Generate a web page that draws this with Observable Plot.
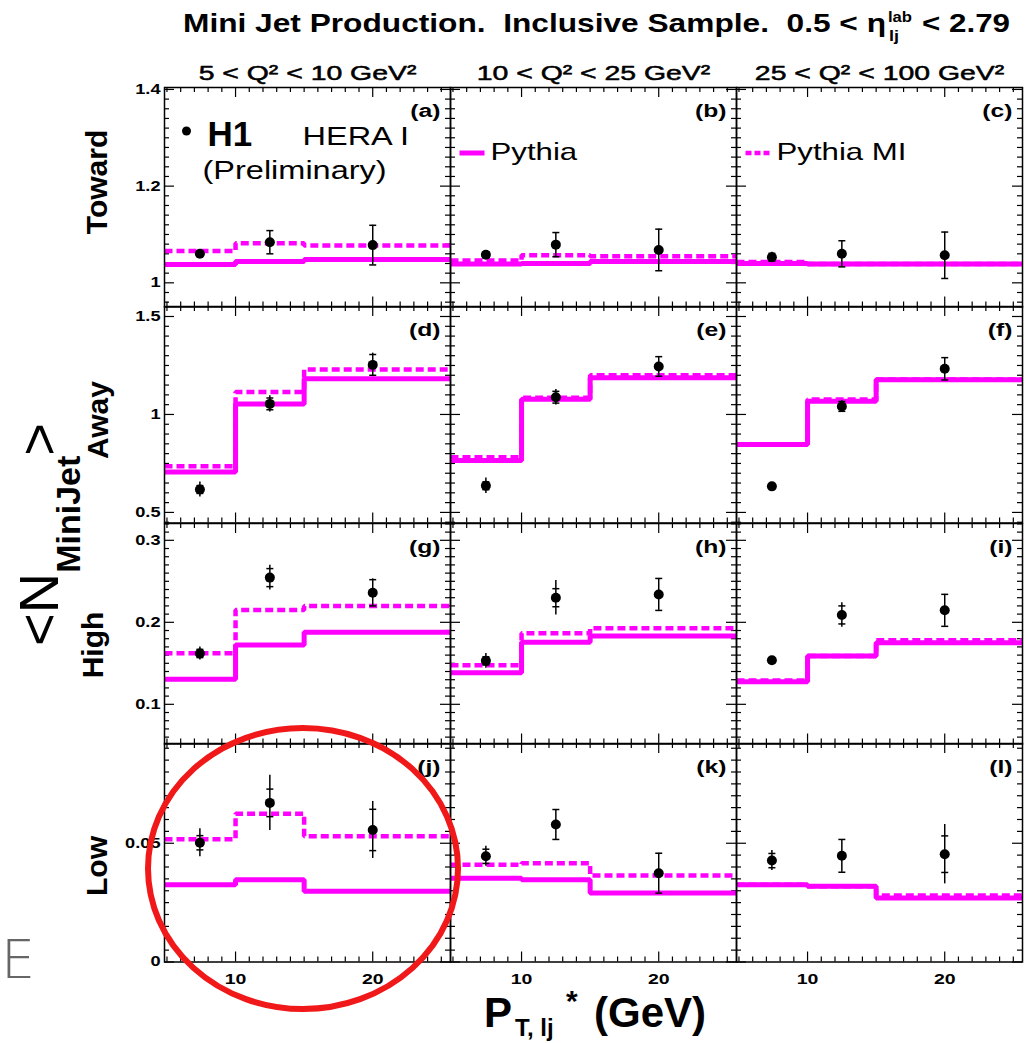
<!DOCTYPE html>
<html><head><meta charset="utf-8">
<script src="https://cdn.jsdelivr.net/npm/d3@7"></script>
<script src="https://cdn.jsdelivr.net/npm/@observablehq/plot@0.6"></script>
<style>
html,body{margin:0;padding:0;background:#fff;}
#chart{position:relative;width:1034px;height:1043px;overflow:hidden;background:#fff;}
#chart svg{position:absolute;left:0;overflow:visible;}
</style></head>
<body><div id="chart"></div>
<script>
const FONT = "'Liberation Sans', Arial, Helvetica, sans-serif";
const MAGENTA = "#ff00ff";

// ---- categories / labels ----
const columns = ["5 < Q² < 10 GeV²", "10 < Q² < 25 GeV²", "25 < Q² < 100 GeV²"];
const regions = ["Toward", "Away", "High", "Low"];
const panelTags = [["(a)","(b)","(c)"],["(d)","(e)","(f)"],["(g)","(h)","(i)"],["(j)","(k)","(l)"]];
const ptDomain = [4.82, 25.67];
const ptBinEdges = [4.82, 10, 15, 25.67];
const ptCenters = [7.4, 12.5, 20];
const xTickLabels = [10, 20];
const yDomains = [[0.95, 1.404], [0.446, 1.551], [0.0516, 0.3205], [0, 0.092]];
const yTickLabels = [[1, 1.2, 1.4], [0.5, 1, 1.5], [0.1, 0.2, 0.3], [0, 0.05]];
const yMinorStep = [0.02, 0.05, 0.01, 0.005];

// ---- Pythia (solid), per column, per PT bin ----
const pythiaToward = [[1.038, 1.044, 1.048], [1.039, 1.040, 1.044], [1.040, 1.039, 1.039]];
const pythiaAway   = [[0.706, 1.054, 1.182], [0.765, 1.077, 1.187], [0.847, 1.068, 1.177]];
const pythiaHigh   = [[0.1305, 0.1723, 0.188], [0.1385, 0.1756, 0.1833], [0.1276, 0.159, 0.175]];
const pythiaLow    = [[0.0325, 0.0346, 0.0298], [0.0353, 0.0346, 0.0291], [0.0325, 0.0319, 0.0270]];

// ---- Pythia MI (dashed) ----
const pythiaMIToward = [[1.066, 1.082, 1.077], [1.046, 1.057, 1.055], [1.043, 1.039, 1.039]];
const pythiaMIAway   = [[0.736, 1.114, 1.230], [0.782, 1.085, 1.200], [0.847, 1.076, 1.178]];
const pythiaMIHigh   = [[0.1622, 0.215, 0.220], [0.1475, 0.1866, 0.1927], [0.129, 0.159, 0.178]];
const pythiaMILow    = [[0.0517, 0.0624, 0.0530], [0.0409, 0.0416, 0.0364], [0.0325, 0.0319, 0.0280]];

// ---- H1 data points ----
const h1Toward = [[1.060, 1.084, 1.078], [1.058, 1.079, 1.068], [1.053, 1.060, 1.057]];
const h1Away   = [[0.617, 1.054, 1.253], [0.636, 1.088, 1.245], [0.633, 1.041, 1.233]];
const h1High   = [[0.162, 0.2545, 0.236], [0.153, 0.230, 0.234], [0.1537, 0.209, 0.2146]];
const h1Low    = [[0.0502, 0.0670, 0.0556], [0.0445, 0.0579, 0.0374], [0.0427, 0.0447, 0.0454]];

// ---- H1 total errors ----
const totErrToward = [[0.006, 0.024, 0.041], [0.008, 0.025, 0.043], [0.010, 0.027, 0.048]];
const totErrAway   = [[0.038, 0.042, 0.060], [0.040, 0.040, 0.050], [0.012, 0.030, 0.057]];
const totErrHigh   = [[0.008, 0.015, 0.017], [0.009, 0.021, 0.0195], [0.004, 0.015, 0.0195]];
const totErrLow    = [[0.0059, 0.0116, 0.012], [0.0042, 0.0063, 0.0084], [0.0042, 0.0069, 0.0125]];

// ---- H1 statistical errors ----
const statErrToward = [[0.005, 0.024, 0.041], [0.006, 0.025, 0.043], [0.008, 0.027, 0.048]];
const statErrAway   = [[0.020, 0.030, 0.053], [0.020, 0.030, 0.050], [0.008, 0.025, 0.057]];
const statErrHigh   = [[0.005, 0.011, 0.016], [0.005, 0.011, 0.0195], [0.003, 0.011, 0.0195]];
const statErrLow    = [[0.003, 0.0058, 0.0087], [0.003, 0.0063, 0.0084], [0.003, 0.0069, 0.0077]];

const pythia = [pythiaToward, pythiaAway, pythiaHigh, pythiaLow];
const pythiaMI = [pythiaMIToward, pythiaMIAway, pythiaMIHigh, pythiaMILow];
const h1 = [h1Toward, h1Away, h1High, h1Low];
const totErr = [totErrToward, totErrAway, totErrHigh, totErrLow];
const statErr = [statErrToward, statErrAway, statErrHigh, statErrLow];

// ---- layout ----
const W = 1034, ML = 164, MR = 12;
const panelW = (W - ML - MR) / 3;
const rowTop = [86.5, 306, 522.5, 743];
const rowBottom = [306, 522.5, 743, 961.5];

const hLine = {draw(context, size) { const r = Math.sqrt(size / Math.PI); context.moveTo(-r, 0); context.lineTo(r, 0); }};

function stretchTexts(svg, pick) {
  svg.querySelectorAll("text").forEach(t => {
    const sx = pick(t.textContent);
    if (sx === 1) return;
    const tr = t.getAttribute("transform");
    if (tr) t.setAttribute("transform", tr + ` scale(${sx},1)`);
    else {
      const x = +(t.getAttribute("x") || 0);
      t.setAttribute("transform", `translate(${x},0) scale(${sx},1) translate(${-x},0)`);
    }
  });
}

const chart = document.getElementById("chart");

regions.forEach((region, r) => {
  const h = rowBottom[r] - rowTop[r];
  const mt = r === 0 ? 40 : 4;
  const mb = r === 3 ? 40 : 4;
  const histSolid = [], histDashed = [], pts = [], caps = [], tags = [];
  columns.forEach((col, c) => {
    ptBinEdges.forEach((e, k) => {
      histSolid.push({col, x: e, y: pythia[r][c][Math.min(k, 2)]});
      histDashed.push({col, x: e, y: pythiaMI[r][c][Math.min(k, 2)]});
    });
    ptCenters.forEach((x, k) => {
      const y = h1[r][c][k], t = totErr[r][c][k], s = statErr[r][c][k];
      pts.push({col, x, y, lo: y - t, hi: y + t});
      caps.push({col, x, y: y - s}, {col, x, y: y + s});
    });
    tags.push({col, tag: panelTags[r][c]});
  });
  const yMajor = yTickLabels[r];
  const [ylo, yhi] = yDomains[r];
  const st = yMinorStep[r];
  const yMinor = d3.range(Math.ceil(ylo / st - 1e-9), Math.floor(yhi / st + 1e-9) + 1)
    .map(i => +(i * st).toFixed(6))
    .filter(v => !yMajor.some(M => Math.abs(M - v) < 1e-9));
  const xMinor = d3.range(5, 26).filter(v => !xTickLabels.includes(v));
  const tk = {stroke: "black", strokeWidth: 1.2};

  const marks = [
    Plot.tickY(yMinor, {y: d => d, insetRight: panelW - 5, ...tk}),
    Plot.tickY(yMinor, {y: d => d, insetLeft: panelW - 5, ...tk}),
    Plot.tickY(yMajor, {y: d => d, insetRight: panelW - 10, ...tk}),
    Plot.tickY(yMajor, {y: d => d, insetLeft: panelW - 10, ...tk}),
    Plot.tickX(xMinor, {x: d => d, insetTop: h - 5, ...tk}),
    Plot.tickX(xMinor, {x: d => d, insetBottom: h - 5, ...tk}),
    Plot.tickX(xTickLabels, {x: d => d, insetTop: h - 10, ...tk}),
    Plot.tickX(xTickLabels, {x: d => d, insetBottom: h - 10, ...tk}),
    Plot.line(histDashed, {fx: "col", x: "x", y: "y", curve: "step-after", stroke: MAGENTA, strokeWidth: 4.5, strokeDasharray: "8,4", strokeLinecap: "butt", strokeLinejoin: "miter"}),
    Plot.line(histSolid, {fx: "col", x: "x", y: "y", curve: "step-after", stroke: MAGENTA, strokeWidth: 5, strokeLinecap: "butt", strokeLinejoin: "miter"}),
    Plot.ruleX(pts, {fx: "col", x: "x", y1: "lo", y2: "hi", stroke: "black", strokeWidth: 1.5}),
    Plot.dot(caps, {fx: "col", x: "x", y: "y", symbol: hLine, r: 3.5, stroke: "black", strokeWidth: 1.5, fill: "none"}),
    Plot.dot(pts, {fx: "col", x: "x", y: "y", r: 5, fill: "black", stroke: "none"}),
    Plot.frame({stroke: "black", strokeWidth: 1.5}),
    Plot.text(tags, {fx: "col", text: "tag", frameAnchor: "top-right", dx: -10, dy: 23, lineAnchor: "middle", textAnchor: "end", fontSize: 19, fontWeight: "bold"}),
    Plot.axisY({ticks: yMajor, tickSize: 0, tickPadding: 4, tickFormat: d => String(d), fontSize: 14, fontWeight: "bold", label: null})
  ];
  if (r === 0) {
    marks.push(
      Plot.text(columns.map(col => ({col})), {fx: "col", text: "col", frameAnchor: "top", dy: -8, lineAnchor: "bottom", fontSize: 20, fill: "black", stroke: "black", strokeWidth: 0.5}),
      Plot.dot([{col: columns[0]}], {fx: "col", frameAnchor: "top-left", dx: 22, dy: 43.5, r: 4.5, fill: "black"}),
      Plot.text([{col: columns[0], t: "H1"}], {fx: "col", text: "t", frameAnchor: "top-left", dx: 43, dy: 58.5, lineAnchor: "bottom", textAnchor: "start", fontSize: 35, fontWeight: "bold"}),
      Plot.text([{col: columns[0], t: "HERA I"}], {fx: "col", text: "t", frameAnchor: "top-left", dx: 138, dy: 57.5, lineAnchor: "bottom", textAnchor: "start", fontSize: 25}),
      Plot.text([{col: columns[0], t: "(Preliminary)"}], {fx: "col", text: "t", frameAnchor: "top-left", dx: 38, dy: 91.5, lineAnchor: "bottom", textAnchor: "start", fontSize: 25}),
      Plot.dot([{col: columns[1]}], {fx: "col", frameAnchor: "top-left", dx: 21.5, dy: 65.5, symbol: hLine, r: 12.5, stroke: MAGENTA, strokeWidth: 5, fill: "none"}),
      Plot.text([{col: columns[1], t: "Pythia"}], {fx: "col", text: "t", frameAnchor: "top-left", dx: 40, dy: 72.5, lineAnchor: "bottom", textAnchor: "start", fontSize: 24}),
      Plot.dot([{col: columns[2]}], {fx: "col", frameAnchor: "top-left", dx: 21.5, dy: 65.5, symbol: hLine, r: 12.5, stroke: MAGENTA, strokeWidth: 4.5, strokeDasharray: "6,3", fill: "none"}),
      Plot.text([{col: columns[2], t: "Pythia MI"}], {fx: "col", text: "t", frameAnchor: "top-left", dx: 40, dy: 72.5, lineAnchor: "bottom", textAnchor: "start", fontSize: 24})
    );
  }
  if (r === 3) {
    marks.push(Plot.axisX({ticks: xTickLabels, tickSize: 0, tickPadding: 11, tickFormat: d => String(d), fontSize: 15, fontWeight: "bold", label: null}));
  }
  const svg = Plot.plot({
    width: W,
    height: h + mt + mb,
    marginLeft: ML, marginRight: MR, marginTop: mt, marginBottom: mb,
    fx: {domain: columns, padding: 0, axis: null},
    x: {domain: ptDomain, axis: null},
    y: {domain: yDomains[r], axis: null},
    style: {fontFamily: FONT, background: "transparent", overflow: "visible", color: "black"},
    marks
  });
  svg.style.top = (rowTop[r] - mt) + "px";
  stretchTexts(svg, s => s === "H1" ? 1 : columns.includes(s) ? 1.42 : 1.3);
  chart.appendChild(svg);
});

// ---- overlay: titles, axis titles, annotation ----
const NS = "http://www.w3.org/2000/svg";
const ov = document.createElementNS(NS, "svg");
ov.setAttribute("width", W); ov.setAttribute("height", 1043);
ov.style.top = "0px";
ov.style.fontFamily = FONT;
ov.innerHTML = `
  <g font-weight="bold" fill="black">
    <text x="183" y="32" font-size="26" xml:space="preserve" style="white-space:pre" textLength="703" lengthAdjust="spacingAndGlyphs">Mini Jet Production.  Inclusive Sample.  0.5 &lt; η</text>
    <text x="888" y="22" font-size="14" textLength="24" lengthAdjust="spacingAndGlyphs">lab</text>
    <text x="889" y="41" font-size="14" textLength="10" lengthAdjust="spacingAndGlyphs">lj</text>
    <text x="922" y="32" font-size="26" textLength="88" lengthAdjust="spacingAndGlyphs">&lt; 2.79</text>
  </g>
  <g transform="translate(58,534.5) rotate(-90)">
    <text text-anchor="middle"><tspan font-size="56">&lt;N</tspan><tspan font-size="34" font-weight="bold" dy="22">MiniJet</tspan><tspan font-size="56" dy="-22">&gt;</tspan></text>
  </g>
  <g font-weight="bold" font-size="30" text-anchor="middle">
    <text transform="translate(107,182) rotate(-90)">${regions[0]}</text>
    <text transform="translate(108,420) rotate(-90)">${regions[1]}</text>
    <text transform="translate(103,645) rotate(-90)">${regions[2]}</text>
    <text transform="translate(107,866) rotate(-90)">${regions[3]}</text>
  </g>
  <g font-weight="bold">
    <text x="484" y="1027" font-size="42">P</text>
    <text x="515" y="1036" font-size="24">T, lj</text>
    <text x="566" y="1011" font-size="30">*</text>
    <text x="594" y="1027" font-size="42">(GeV)</text>
  </g>
  <ellipse cx="303" cy="868.5" rx="155" ry="140.5" fill="none" stroke="#f01818" stroke-width="6"/>
  <text x="1" y="978" font-size="54" fill="#666" font-family="'DejaVu Sans', sans-serif" font-weight="200">E</text>
`;
chart.appendChild(ov);
</script></body></html>
